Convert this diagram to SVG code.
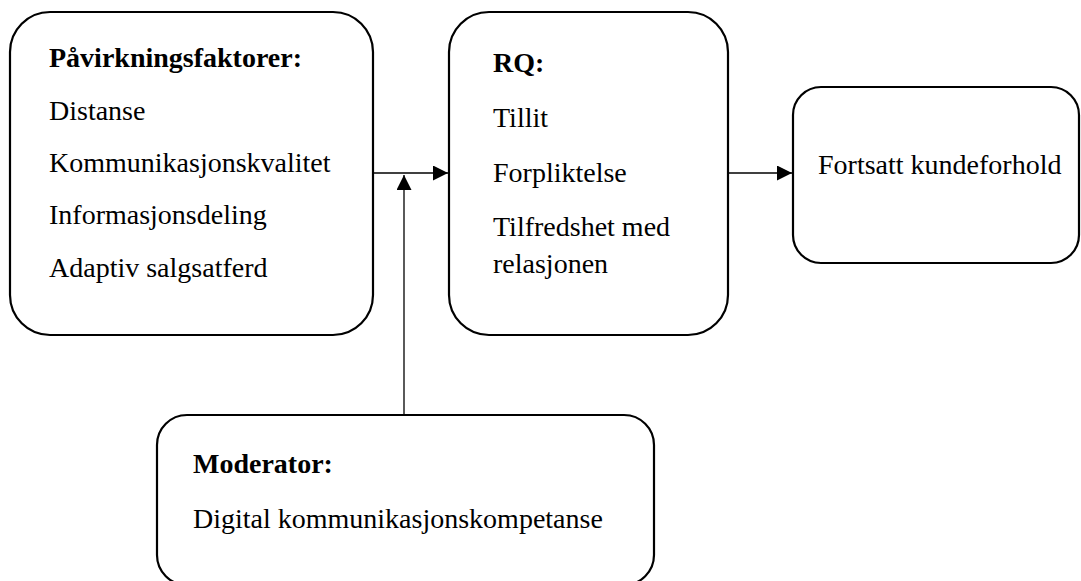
<svg xmlns="http://www.w3.org/2000/svg" width="1081" height="581" viewBox="0 0 1081 581">
<defs>
<style>
.box{fill:#fff;stroke:#000;stroke-width:2.2}
.t{font-family:"Liberation Serif","Times New Roman",serif;font-size:28px;fill:#000}
.b{font-weight:bold}
.c{stroke:#000;stroke-width:1.3;fill:none}
</style>
<marker id="ah" markerWidth="15" markerHeight="15" viewBox="0 0 15 15" refX="15" refY="7.5" orient="auto" markerUnits="userSpaceOnUse">
<path d="M0,0 L15,7.5 L0,15 Z" fill="#000"/>
</marker>
</defs>
<rect width="1081" height="581" fill="#fff"/>
<g id="connectors">
<line class="c" x1="373" y1="173" x2="448" y2="173" marker-end="url(#ah)"/>
<line class="c" x1="728" y1="173" x2="792" y2="173" marker-end="url(#ah)"/>
<line class="c" x1="404" y1="415" x2="404" y2="175" marker-end="url(#ah)"/>
</g>
<g id="node-pavirkning">
<rect class="box" x="10" y="12" width="363" height="323" rx="40" ry="40"/>
<text class="t b" x="49" y="67">Påvirkningsfaktorer:</text>
<text class="t" x="49" y="120">Distanse</text>
<text class="t" x="49" y="172">Kommunikasjonskvalitet</text>
<text class="t" x="49" y="224">Informasjonsdeling</text>
<text class="t" x="49" y="277">Adaptiv salgsatferd</text>
</g>
<g id="node-rq">
<rect class="box" x="449" y="12" width="279" height="323" rx="40" ry="40"/>
<text class="t b" x="493" y="72">RQ:</text>
<text class="t" x="493" y="127">Tillit</text>
<text class="t" x="493" y="182">Forpliktelse</text>
<text class="t" x="493" y="236">Tilfredshet med</text>
<text class="t" x="493" y="273">relasjonen</text>
</g>
<g id="node-fortsatt">
<rect class="box" x="793" y="87" width="286" height="176" rx="28" ry="28"/>
<text class="t" x="818" y="174">Fortsatt kundeforhold</text>
</g>
<g id="node-moderator">
<rect class="box" x="157" y="415" width="497" height="170" rx="30" ry="30"/>
<text class="t b" x="193" y="473">Moderator:</text>
<text class="t" x="193" y="528">Digital kommunikasjonskompetanse</text>
</g>
</svg>
